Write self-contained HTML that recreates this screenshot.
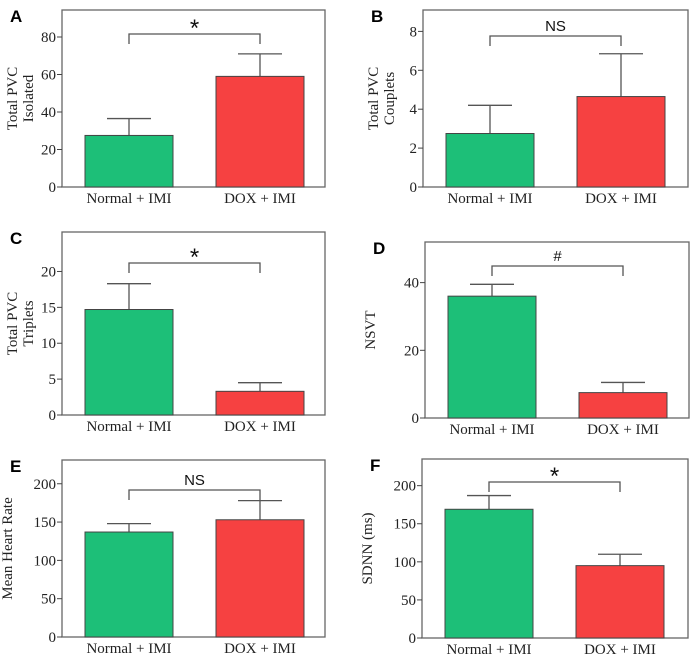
<!DOCTYPE html>
<html><head><meta charset="utf-8"><style>
body{margin:0;background:#fff;width:700px;height:655px;overflow:hidden}
</style></head><body>
<svg id="fig" width="700" height="655" xmlns="http://www.w3.org/2000/svg"></svg>
<script>
const categories = ["Normal + IMI", "DOX + IMI"];
const panelLetters = ["A","B","C","D","E","F"];
const yTitles = [["Total PVC","Isolated"],["Total PVC","Couplets"],["Total PVC","Triplets"],["NSVT"],["Mean Heart Rate"],["SDNN (ms)"]];
const meansA = [27.5, 59], errA = [36.5, 71], ticksA = [0,20,40,60,80];
const meansB = [2.75, 4.65], errB = [4.2, 6.85], ticksB = [0,2,4,6,8];
const meansC = [14.7, 3.3], errC = [18.3, 4.5], ticksC = [0,5,10,15,20];
const meansD = [36, 7.5], errD = [39.5, 10.5], ticksD = [0,20,40];
const meansE = [137, 153], errE = [148, 178], ticksE = [0,50,100,150,200];
const meansF = [169, 95], errF = [187, 110], ticksF = [0,50,100,150,200];
const sigLabels = ["*","NS","*","#","NS","*"];
const yMaxes = [94.4, 9.1, 25.5, 52, 231, 235];

const panels = [
 {x0:62,x1:325,y0:10,y1:187,m:meansA,e:errA,t:ticksA,by:34},
 {x0:423,x1:688,y0:10,y1:187,m:meansB,e:errB,t:ticksB,by:36},
 {x0:62,x1:325,y0:232,y1:415,m:meansC,e:errC,t:ticksC,by:263},
 {x0:425,x1:689,y0:242,y1:418,m:meansD,e:errD,t:ticksD,by:266},
 {x0:62,x1:325,y0:460,y1:637,m:meansE,e:errE,t:ticksE,by:490},
 {x0:422,x1:688,y0:459,y1:638,m:meansF,e:errF,t:ticksF,by:482}
];
const svg=document.getElementById('fig');
const NS='http://www.w3.org/2000/svg';
const SERIF='font-family:"Liberation Serif","DejaVu Serif",serif;fill:#222;';
const SANS='font-family:"Liberation Sans","DejaVu Sans",sans-serif;font-weight:bold;fill:#000;';
function mk(tag,attrs,txt){const el=document.createElementNS(NS,tag);for(const k in attrs)el.setAttribute(k,attrs[k]);if(txt!==undefined)el.textContent=txt;svg.appendChild(el);return el;}
const colors=["#1dbf78","#f64141"];
panels.forEach((p,i)=>{
 const ymax=yMaxes[i];
 const y=v=>p.y1-(v/ymax)*(p.y1-p.y0);
 const box=mk('rect',{x:p.x0,y:p.y0,width:p.x1-p.x0,height:p.y1-p.y0,fill:'none',stroke:'#666','stroke-width':1.3});
 
 
 const L=mk('text',{x:p.x0-52,y:p.y0+12,style:SANS+'font-size:17px'},panelLetters[i]);
 
 
 p.t.forEach(tv=>{
  const ty=y(tv);
  const tk=mk('line',{x1:p.x0-5,x2:p.x0,y1:ty,y2:ty,stroke:'#444','stroke-width':1});
  
  
  const tl=mk('text',{x:p.x0-6,y:ty+5,'text-anchor':'end',style:SERIF+'font-size:15px'},tv);
  
  
 });
 const lines=yTitles[i];
 const cy=(p.y0+p.y1)/2;
 lines.forEach((ln,j)=>{
  const lx=(lines.length===2? p.x0-45+j*16 : p.x0-50);
  const t=mk('text',{x:lx,y:cy,'text-anchor':'middle',style:SERIF+'font-size:15px',transform:`rotate(-90 ${lx} ${cy})`},ln);
  
  
 });
 const bw=88;
 const bx=[p.x0+23,p.x0+154];
 const cx=[];
 p.m.forEach((v,k)=>{
  const c=bx[k]+bw/2; cx.push(c);
  const el=mk('line',{x1:c,x2:c,y1:y(v),y2:y(p.e[k]),stroke:'#555','stroke-width':1.3});
  
  
  const cap=mk('line',{x1:c-22,x2:c+22,y1:y(p.e[k]),y2:y(p.e[k]),stroke:'#555','stroke-width':1.3});
  
  
  const b=mk('rect',{x:bx[k],y:y(v),width:bw,height:p.y1-y(v),fill:colors[k],stroke:'#444','stroke-width':1});
  
  
  const xl=mk('text',{x:c,y:p.y1+16,'text-anchor':'middle',style:SERIF+'font-size:15px'},categories[k]);
  
  
 });
 const br=mk('path',{d:`M${cx[0]} ${p.by+10}V${p.by}H${cx[1]}V${p.by+10}`,fill:'none',stroke:'#555','stroke-width':1.3});
 
 
 const isStar=sigLabels[i]==='*';
 const s=mk('text',{x:(cx[0]+cx[1])/2,y:p.by-(isStar?-2:5),'text-anchor':'middle',style:'font-family:"Liberation Sans",sans-serif;fill:#111;font-size:'+(isStar?'24px':'15px')},sigLabels[i]);
 
 
});
</script>
</body></html>
